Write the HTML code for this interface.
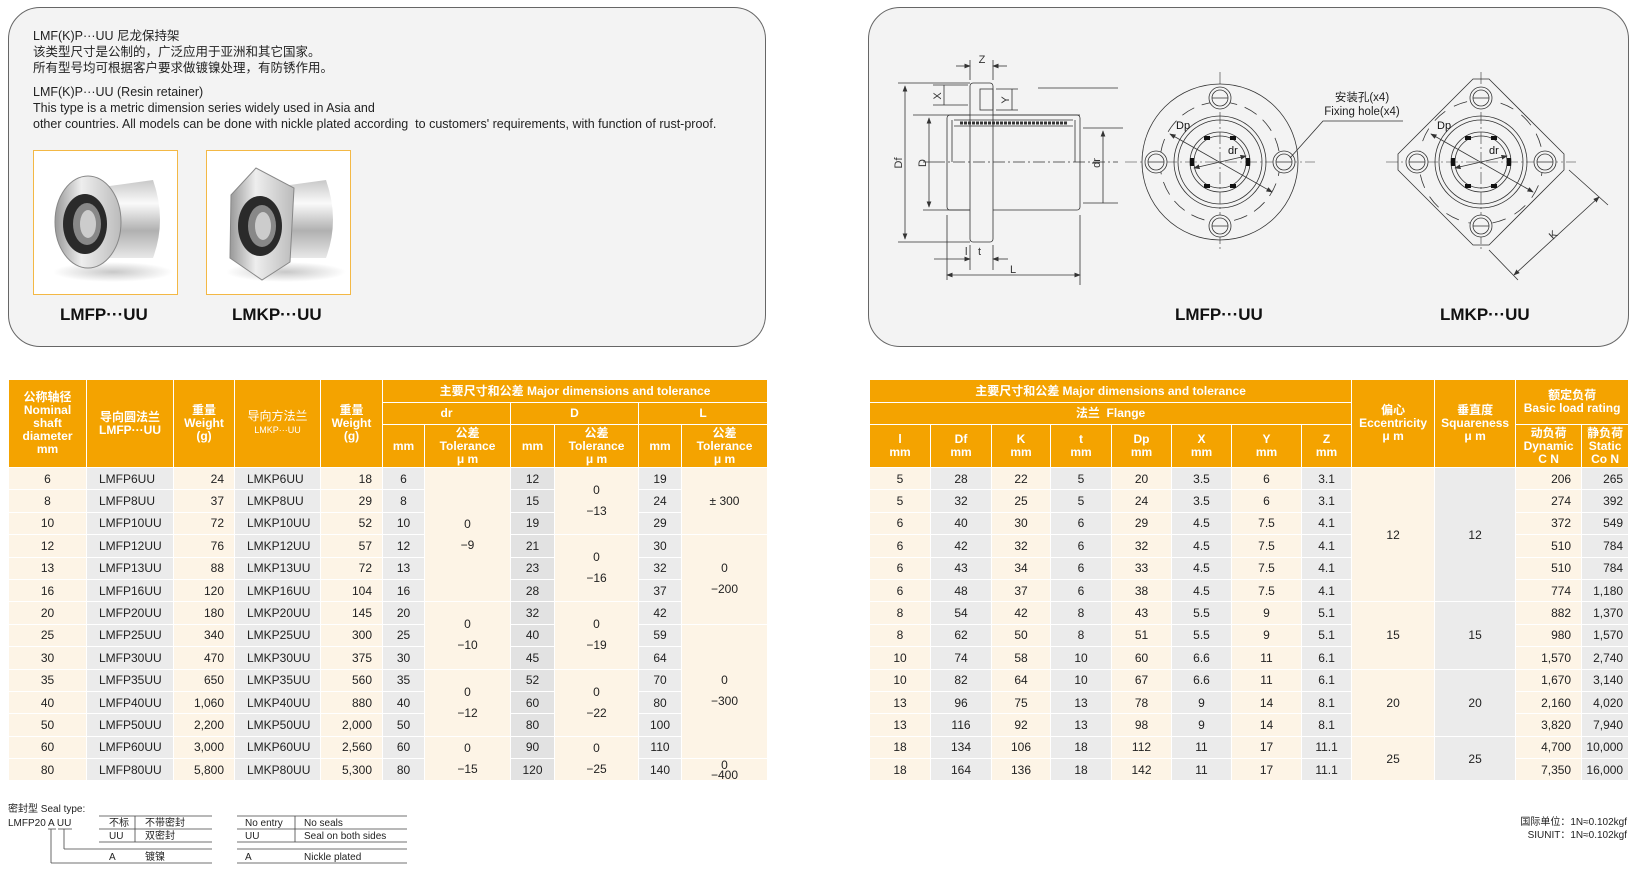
<!DOCTYPE html>
<html><head><meta charset="utf-8">
<style>
*{margin:0;padding:0;box-sizing:border-box}
body{width:1635px;height:885px;background:#fff;position:relative;overflow:hidden;font-family:"Liberation Sans","Noto Sans CJK SC",sans-serif;color:#222}
.panel{position:absolute;background:#f3f3f3;border:1.5px solid #666;border-radius:32px}
.t{position:absolute;font-size:12.5px;white-space:nowrap;line-height:15px}
table{position:absolute;border-collapse:collapse;table-layout:fixed;font-family:"Liberation Sans","Noto Sans CJK SC",sans-serif}
td,th{border:1.5px solid #fff;text-align:center;vertical-align:middle;font-size:12px;overflow:hidden;white-space:nowrap}
th{background:#f4a300;color:#fff;font-weight:bold;line-height:13px}
td{height:22.4px;color:#222;line-height:14px}
.c{background:#fdf4e6}.g{background:#ebebeb}.gd{background:#e2e2e2}
.r{text-align:right;padding-right:10px}.l{text-align:left;padding-left:12px}
.tl{line-height:21px}
.bold{font-weight:bold;font-size:17px;position:absolute;white-space:nowrap;color:#111}
</style></head><body>

<div class="panel" style="left:8px;top:7px;width:758px;height:340px"></div>
<div class="panel" style="left:868px;top:7px;width:761px;height:340px"></div>

<div class="t" style="left:33px;top:29px">LMF(K)P···UU 尼龙保持架</div>
<div class="t" style="left:33px;top:45px">该类型尺寸是公制的，广泛应用于亚洲和其它国家。</div>
<div class="t" style="left:33px;top:61px">所有型号均可根据客户要求做镀镍处理，有防锈作用。</div>
<div class="t" style="left:33px;top:85px">LMF(K)P···UU (Resin retainer)</div>
<div class="t" style="left:33px;top:101px">This type is a metric dimension series widely used in Asia and</div>
<div class="t" style="left:33px;top:117px">other countries. All models can be done with nickle plated according &nbsp;to customers' requirements, with function of rust-proof.</div>

<svg style="position:absolute;left:33px;top:150px" width="145" height="145">
<defs><linearGradient id="m" x1="0" x2="0" y1="0" y2="1"><stop offset="0" stop-color="#c8c8c8"/><stop offset=".3" stop-color="#fafafa"/><stop offset=".65" stop-color="#b0b0b0"/><stop offset="1" stop-color="#e8e8e8"/></linearGradient>
<linearGradient id="f" x1="0" x2="1"><stop offset="0" stop-color="#999"/><stop offset=".4" stop-color="#eee"/><stop offset="1" stop-color="#bbb"/></linearGradient>
<radialGradient id="sh"><stop offset="0" stop-color="#c8c8c8"/><stop offset="1" stop-color="#fff"/></radialGradient></defs>
<rect x="0.5" y="0.5" width="144" height="144" fill="#fff" stroke="#f3b845"/>
<ellipse cx="80" cy="122" rx="60" ry="10" fill="url(#sh)"/>
<path d="M62 38 L120 30 Q134 70 120 108 L62 108Z" fill="url(#m)"/>
<ellipse cx="55" cy="72" rx="33" ry="46" fill="url(#f)" stroke="#888"/>
<ellipse cx="52" cy="74" rx="22" ry="30" fill="#2a2a2a"/>
<ellipse cx="54" cy="74" rx="14" ry="21" fill="#888"/>
<ellipse cx="55" cy="74" rx="8" ry="14" fill="#ccc"/>
</svg>
<svg style="position:absolute;left:206px;top:150px" width="145" height="145">
<rect x="0.5" y="0.5" width="144" height="144" fill="#fff" stroke="#f3b845"/>
<ellipse cx="80" cy="122" rx="60" ry="10" fill="url(#sh)"/>
<path d="M62 38 L120 30 Q134 70 120 108 L62 108Z" fill="url(#m)"/>
<path d="M25 45 L50 18 L88 38 L84 112 L56 130 L24 108Z" fill="url(#f)" stroke="#888"/>
<ellipse cx="54" cy="76" rx="22" ry="30" fill="#2a2a2a"/>
<ellipse cx="56" cy="76" rx="14" ry="21" fill="#888"/>
<ellipse cx="57" cy="76" rx="8" ry="14" fill="#ccc"/>
</svg>
<div class="bold" style="left:60px;top:305px">LMFP···UU</div>
<div class="bold" style="left:232px;top:305px">LMKP···UU</div>
<div class="bold" style="left:1175px;top:305px">LMFP···UU</div>
<div class="bold" style="left:1440px;top:305px">LMKP···UU</div>

<svg style="position:absolute;left:868px;top:40px" width="760" height="260" font-family="Liberation Sans,sans-serif" font-size="11" fill="none" stroke="#333" stroke-width="0.8">
<defs><marker id="a" markerWidth="8" markerHeight="6" refX="7" refY="3" orient="auto-start-reverse"><path d="M0,0 L8,3 L0,6Z" fill="#333" stroke="none"/></marker></defs>
<rect x="79" y="75" width="133" height="95" rx="3"/>
<rect x="102" y="43" width="23" height="159" rx="3" fill="#f3f3f3"/>
<line x1="79" y1="75" x2="212" y2="75"/>
<rect x="112" y="49" width="13" height="21"/>
<path d="M86 80 L205 80 M86 86 L205 86 M84 80 L84 122 M207 80 L207 122"/>
<path d="M92 83 h108" stroke-dasharray="3 1" stroke-width="3"/>
<path d="M65 122 H250 M55 122 h10" stroke-dasharray="12 3 2 3"/>
<path d="M30 43 H102 M55 75 H79 M55 170 H102 M30 202 H102 M45 75 H70 M250 48 H170"/>
<line x1="37" y1="46" x2="37" y2="199" marker-start="url(#a)" marker-end="url(#a)"/>
<line x1="61" y1="78" x2="61" y2="167" marker-start="url(#a)" marker-end="url(#a)"/>
<path d="M215 88 H255 M215 163 H250"/>
<line x1="235" y1="91" x2="235" y2="163" marker-start="url(#a)"/>
<path d="M102 20 V40 M125 20 V40"/>
<line x1="88" y1="26" x2="102" y2="26" marker-end="url(#a)"/><line x1="139" y1="26" x2="125" y2="26" marker-end="url(#a)"/>
<path d="M65 45 H100 M65 65 H100 M128 49 H150 M128 70 H150"/>
<line x1="76" y1="45" x2="76" y2="65"/><line x1="144" y1="49" x2="144" y2="70"/>
<path d="M79 175 V240 M212 175 V245 M102 205 V230 M125 205 V230"/>
<line x1="66" y1="219" x2="102" y2="219" marker-end="url(#a)"/><line x1="140" y1="219" x2="125" y2="219" marker-end="url(#a)"/>
<line x1="79" y1="235" x2="212" y2="235" marker-start="url(#a)" marker-end="url(#a)"/>
<g fill="#333" stroke="none" font-size="11">
<text x="114" y="23" text-anchor="middle">Z</text>
<text x="97" y="215">l</text><text x="110" y="215">t</text>
<text x="142" y="233">L</text>
<text transform="translate(34,123) rotate(-90)" text-anchor="middle">Df</text>
<text transform="translate(58,123) rotate(-90)" text-anchor="middle">D</text>
<text transform="translate(232,123) rotate(-90)" text-anchor="middle">dr</text>
<text transform="translate(73,56) rotate(-90)" text-anchor="middle">X</text>
<text transform="translate(141,60) rotate(-90)" text-anchor="middle">Y</text>
</g>
<g transform="translate(352,122)">
<circle r="78"/><circle r="60" stroke-dasharray="14 8"/><circle r="46"/><circle r="42"/><circle r="30"/><circle r="26"/>
<path d="M-95 0 H95 M0 -90 V90" stroke-dasharray="12 3 2 3" stroke-width="0.6"/>
<g fill="#f3f3f3"><circle cx="0" cy="-64" r="11"/><circle cx="0" cy="64" r="11"/><circle cx="-64" cy="0" r="11"/><circle cx="64" cy="0" r="11"/></g>
<circle cx="0" cy="-64" r="8"/><circle cx="0" cy="64" r="8"/><circle cx="-64" cy="0" r="8"/><circle cx="64" cy="0" r="8"/>
<path d="M-8 -64 H8 M-8 64 H8 M-72 0 H-56 M56 0 H72"/>
<line x1="-50" y1="-28" x2="52" y2="30" marker-start="url(#a)" marker-end="url(#a)"/>
<line x1="-26" y1="6" x2="26" y2="-6" marker-start="url(#a)" marker-end="url(#a)"/>
<g fill="#111" stroke="none"><rect x="-30" y="-4" width="4" height="8"/><rect x="26" y="-4" width="4" height="8"/><rect x="-16" y="-26" width="6" height="4"/><rect x="10" y="-26" width="6" height="4"/><rect x="-16" y="22" width="6" height="4"/><rect x="10" y="22" width="6" height="4"/>
<text x="-44" y="-33" font-size="11">Dp</text><text x="8" y="-8" font-size="11">dr</text></g>
</g>
<g fill="#222" stroke="none" font-size="11.5"><text x="494" y="61" text-anchor="middle">安装孔(x4)</text><text x="494" y="75" text-anchor="middle">Fixing hole(x4)</text></g>
<path d="M535 81 H455 L422 118"/>
<g transform="translate(613,122)">
<path d="M-8 -83 L8 -83 L83 -8 L83 8 L8 83 L-8 83 L-83 8 L-83 -8Z"/>
<circle r="62" stroke-dasharray="14 10"/><circle r="46"/><circle r="42"/><circle r="30"/><circle r="26"/>
<path d="M-95 0 H95 M0 -90 V90" stroke-dasharray="12 3 2 3" stroke-width="0.6"/>
<g fill="#f3f3f3"><circle cx="0" cy="-64" r="11"/><circle cx="0" cy="64" r="11"/><circle cx="-64" cy="0" r="11"/><circle cx="64" cy="0" r="11"/></g>
<circle cx="0" cy="-64" r="8"/><circle cx="0" cy="64" r="8"/><circle cx="-64" cy="0" r="8"/><circle cx="64" cy="0" r="8"/>
<path d="M-8 -64 H8 M-8 64 H8 M-72 0 H-56 M56 0 H72"/>
<line x1="-50" y1="-28" x2="52" y2="30" marker-start="url(#a)" marker-end="url(#a)"/>
<line x1="-26" y1="6" x2="26" y2="-6" marker-start="url(#a)" marker-end="url(#a)"/>
<g fill="#111" stroke="none"><rect x="-30" y="-4" width="4" height="8"/><rect x="26" y="-4" width="4" height="8"/><rect x="-16" y="-26" width="6" height="4"/><rect x="10" y="-26" width="6" height="4"/><rect x="-16" y="22" width="6" height="4"/><rect x="10" y="22" width="6" height="4"/>
<text x="-44" y="-33" font-size="11">Dp</text><text x="8" y="-8" font-size="11">dr</text></g>
<path d="M88 8 L127 43 M8 88 L37 118"/>
<line x1="118" y1="35" x2="33" y2="113" marker-start="url(#a)" marker-end="url(#a)"/>
<text transform="translate(72,78) rotate(-43)" fill="#333" stroke="none" font-size="11">K</text>
</g>
</svg>

<table style="left:8px;top:379px;width:759px">
<colgroup><col style="width:78px"><col style="width:87px"><col style="width:61px"><col style="width:86px"><col style="width:62px"><col style="width:42px"><col style="width:86px"><col style="width:44px"><col style="width:84px"><col style="width:43px"><col style="width:86px"></colgroup>
<tr style="height:23px"><th rowspan="3">公称轴径<br>Nominal<br>shaft<br>diameter<br>mm</th><th rowspan="3">导向圆法兰<br>LMFP···UU</th><th rowspan="3">重量<br>Weight<br>(g)</th><th rowspan="3"><span style="font-weight:normal">导向方法兰</span><br><span style="font-size:9px;font-weight:normal">LMKP···UU</span></th><th rowspan="3">重量<br>Weight<br>(g)</th><th colspan="6">主要尺寸和公差 Major dimensions and tolerance</th></tr>
<tr style="height:22px"><th colspan="2">dr</th><th colspan="2">D</th><th colspan="2">L</th></tr>
<tr style="height:43px"><th>mm</th><th>公差<br>Tolerance<br>μ m</th><th>mm</th><th>公差<br>Tolerance<br>μ m</th><th>mm</th><th>公差<br>Tolerance<br>μ m</th></tr>
<tr><td class="c">6</td><td class="g l">LMFP6UU</td><td class="c r">24</td><td class="g l">LMKP6UU</td><td class="c r">18</td><td class="g">6</td><td class="c tl" rowspan="6">0<br>−9</td><td class="gd">12</td><td class="c tl" rowspan="3">0<br>−13</td><td class="g">19</td><td class="c" rowspan="3">± 300</td></tr>
<tr><td class="c">8</td><td class="g l">LMFP8UU</td><td class="c r">37</td><td class="g l">LMKP8UU</td><td class="c r">29</td><td class="g">8</td><td class="gd">15</td><td class="g">24</td></tr>
<tr><td class="c">10</td><td class="g l">LMFP10UU</td><td class="c r">72</td><td class="g l">LMKP10UU</td><td class="c r">52</td><td class="g">10</td><td class="gd">19</td><td class="g">29</td></tr>
<tr><td class="c">12</td><td class="g l">LMFP12UU</td><td class="c r">76</td><td class="g l">LMKP12UU</td><td class="c r">57</td><td class="g">12</td><td class="gd">21</td><td class="c tl" rowspan="3">0<br>−16</td><td class="g">30</td><td class="c tl" rowspan="4">0<br>−200</td></tr>
<tr><td class="c">13</td><td class="g l">LMFP13UU</td><td class="c r">88</td><td class="g l">LMKP13UU</td><td class="c r">72</td><td class="g">13</td><td class="gd">23</td><td class="g">32</td></tr>
<tr><td class="c">16</td><td class="g l">LMFP16UU</td><td class="c r">120</td><td class="g l">LMKP16UU</td><td class="c r">104</td><td class="g">16</td><td class="gd">28</td><td class="g">37</td></tr>
<tr><td class="c">20</td><td class="g l">LMFP20UU</td><td class="c r">180</td><td class="g l">LMKP20UU</td><td class="c r">145</td><td class="g">20</td><td class="c tl" rowspan="3">0<br>−10</td><td class="gd">32</td><td class="c tl" rowspan="3">0<br>−19</td><td class="g">42</td></tr>
<tr><td class="c">25</td><td class="g l">LMFP25UU</td><td class="c r">340</td><td class="g l">LMKP25UU</td><td class="c r">300</td><td class="g">25</td><td class="gd">40</td><td class="g">59</td><td class="c tl" rowspan="6">0<br>−300</td></tr>
<tr><td class="c">30</td><td class="g l">LMFP30UU</td><td class="c r">470</td><td class="g l">LMKP30UU</td><td class="c r">375</td><td class="g">30</td><td class="gd">45</td><td class="g">64</td></tr>
<tr><td class="c">35</td><td class="g l">LMFP35UU</td><td class="c r">650</td><td class="g l">LMKP35UU</td><td class="c r">560</td><td class="g">35</td><td class="c tl" rowspan="3">0<br>−12</td><td class="gd">52</td><td class="c tl" rowspan="3">0<br>−22</td><td class="g">70</td></tr>
<tr><td class="c">40</td><td class="g l">LMFP40UU</td><td class="c r">1,060</td><td class="g l">LMKP40UU</td><td class="c r">880</td><td class="g">40</td><td class="gd">60</td><td class="g">80</td></tr>
<tr><td class="c">50</td><td class="g l">LMFP50UU</td><td class="c r">2,200</td><td class="g l">LMKP50UU</td><td class="c r">2,000</td><td class="g">50</td><td class="gd">80</td><td class="g">100</td></tr>
<tr><td class="c">60</td><td class="g l">LMFP60UU</td><td class="c r">3,000</td><td class="g l">LMKP60UU</td><td class="c r">2,560</td><td class="g">60</td><td class="c tl" rowspan="2">0<br>−15</td><td class="gd">90</td><td class="c tl" rowspan="2">0<br>−25</td><td class="g">110</td></tr>
<tr><td class="c">80</td><td class="g l">LMFP80UU</td><td class="c r">5,800</td><td class="g l">LMKP80UU</td><td class="c r">5,300</td><td class="g">80</td><td class="gd">120</td><td class="g">140</td><td class="c" style="line-height:10px">0<br>−400</td></tr>
</table>

<table style="left:869px;top:379px;width:759px">
<colgroup><col style="width:61px"><col style="width:61px"><col style="width:59px"><col style="width:61px"><col style="width:60px"><col style="width:60px"><col style="width:70px"><col style="width:50px"><col style="width:83px"><col style="width:81px"><col style="width:66px"><col style="width:47px"></colgroup>
<tr style="height:23px"><th colspan="8">主要尺寸和公差 Major dimensions and tolerance</th><th rowspan="3">偏心<br>Eccentricity<br>μ m</th><th rowspan="3">垂直度<br>Squareness<br>μ m</th><th colspan="2" rowspan="2">额定负荷<br>Basic load rating</th></tr>
<tr style="height:22px"><th colspan="8">法兰 &nbsp;Flange</th></tr>
<tr style="height:43px"><th>l<br>mm</th><th>Df<br>mm</th><th>K<br>mm</th><th>t<br>mm</th><th>Dp<br>mm</th><th>X<br>mm</th><th>Y<br>mm</th><th>Z<br>mm</th><th>动负荷<br>Dynamic<br>C N</th><th>静负荷<br>Static<br>Co N</th></tr>
<tr><td class="c">5</td><td class="g">28</td><td class="c">22</td><td class="g">5</td><td class="c">20</td><td class="g">3.5</td><td class="c">6</td><td class="g">3.1</td><td class="c" rowspan="6">12</td><td class="g" rowspan="6">12</td><td class="c r">206</td><td class="g r" style="padding-right:5px">265</td></tr>
<tr><td class="c">5</td><td class="g">32</td><td class="c">25</td><td class="g">5</td><td class="c">24</td><td class="g">3.5</td><td class="c">6</td><td class="g">3.1</td><td class="c r">274</td><td class="g r" style="padding-right:5px">392</td></tr>
<tr><td class="c">6</td><td class="g">40</td><td class="c">30</td><td class="g">6</td><td class="c">29</td><td class="g">4.5</td><td class="c">7.5</td><td class="g">4.1</td><td class="c r">372</td><td class="g r" style="padding-right:5px">549</td></tr>
<tr><td class="c">6</td><td class="g">42</td><td class="c">32</td><td class="g">6</td><td class="c">32</td><td class="g">4.5</td><td class="c">7.5</td><td class="g">4.1</td><td class="c r">510</td><td class="g r" style="padding-right:5px">784</td></tr>
<tr><td class="c">6</td><td class="g">43</td><td class="c">34</td><td class="g">6</td><td class="c">33</td><td class="g">4.5</td><td class="c">7.5</td><td class="g">4.1</td><td class="c r">510</td><td class="g r" style="padding-right:5px">784</td></tr>
<tr><td class="c">6</td><td class="g">48</td><td class="c">37</td><td class="g">6</td><td class="c">38</td><td class="g">4.5</td><td class="c">7.5</td><td class="g">4.1</td><td class="c r">774</td><td class="g r" style="padding-right:5px">1,180</td></tr>
<tr><td class="c">8</td><td class="g">54</td><td class="c">42</td><td class="g">8</td><td class="c">43</td><td class="g">5.5</td><td class="c">9</td><td class="g">5.1</td><td class="c" rowspan="3">15</td><td class="g" rowspan="3">15</td><td class="c r">882</td><td class="g r" style="padding-right:5px">1,370</td></tr>
<tr><td class="c">8</td><td class="g">62</td><td class="c">50</td><td class="g">8</td><td class="c">51</td><td class="g">5.5</td><td class="c">9</td><td class="g">5.1</td><td class="c r">980</td><td class="g r" style="padding-right:5px">1,570</td></tr>
<tr><td class="c">10</td><td class="g">74</td><td class="c">58</td><td class="g">10</td><td class="c">60</td><td class="g">6.6</td><td class="c">11</td><td class="g">6.1</td><td class="c r">1,570</td><td class="g r" style="padding-right:5px">2,740</td></tr>
<tr><td class="c">10</td><td class="g">82</td><td class="c">64</td><td class="g">10</td><td class="c">67</td><td class="g">6.6</td><td class="c">11</td><td class="g">6.1</td><td class="c" rowspan="3">20</td><td class="g" rowspan="3">20</td><td class="c r">1,670</td><td class="g r" style="padding-right:5px">3,140</td></tr>
<tr><td class="c">13</td><td class="g">96</td><td class="c">75</td><td class="g">13</td><td class="c">78</td><td class="g">9</td><td class="c">14</td><td class="g">8.1</td><td class="c r">2,160</td><td class="g r" style="padding-right:5px">4,020</td></tr>
<tr><td class="c">13</td><td class="g">116</td><td class="c">92</td><td class="g">13</td><td class="c">98</td><td class="g">9</td><td class="c">14</td><td class="g">8.1</td><td class="c r">3,820</td><td class="g r" style="padding-right:5px">7,940</td></tr>
<tr><td class="c">18</td><td class="g">134</td><td class="c">106</td><td class="g">18</td><td class="c">112</td><td class="g">11</td><td class="c">17</td><td class="g">11.1</td><td class="c" rowspan="2">25</td><td class="g" rowspan="2">25</td><td class="c r">4,700</td><td class="g r" style="padding-right:5px">10,000</td></tr>
<tr><td class="c">18</td><td class="g">164</td><td class="c">136</td><td class="g">18</td><td class="c">142</td><td class="g">11</td><td class="c">17</td><td class="g">11.1</td><td class="c r">7,350</td><td class="g r" style="padding-right:5px">16,000</td></tr>
</table>

<svg style="position:absolute;left:0;top:795px" width="420" height="80" font-family="Liberation Sans,Noto Sans CJK SC,sans-serif" font-size="10" fill="#222">
<text x="8" y="17">密封型 Seal type:</text>
<text x="8" y="31">LMFP20 A UU</text>
<g stroke="#444" stroke-width="0.8" fill="none">
<path d="M99 21 H212 M99 34 H212 M99 47 H212 M64 54 H212 M51 68 H212 M135 21 V47"/>
<path d="M237 21 H407 M237 34 H407 M237 47 H407 M237 54 H407 M237 68 H407 M295 21 V47"/>
<path d="M51 34 V68 M64 34 V54 M48 34 h8 M58 34 h14"/>
</g>
<text x="109" y="31">不标</text><text x="145" y="31">不带密封</text>
<text x="109" y="44">UU</text><text x="145" y="44">双密封</text>
<text x="109" y="65">A</text><text x="145" y="65">镀镍</text>
<text x="245" y="31">No entry</text><text x="304" y="31">No seals</text>
<text x="245" y="44">UU</text><text x="304" y="44">Seal on both sides</text>
<text x="245" y="65">A</text><text x="304" y="65">Nickle plated</text>
</svg>
<div style="position:absolute;right:8px;top:816px;font-size:10px;line-height:13px;text-align:right;color:#222">国际单位：1N≈0.102kgf<br>SIUNIT：1N≈0.102kgf</div>
</body></html>
